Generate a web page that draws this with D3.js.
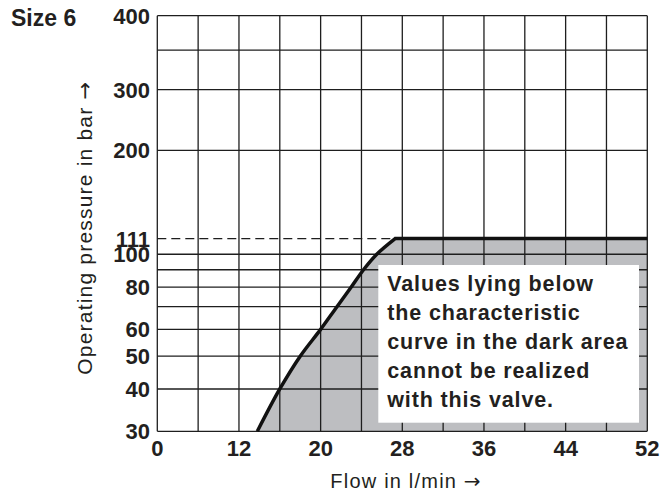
<!DOCTYPE html>
<html>
<head>
<meta charset="utf-8">
<script src="https://cdn.jsdelivr.net/npm/d3@7"></script>
<style>
  html, body { margin: 0; padding: 0; background: #fff; }
  svg { display: block; }
</style>
</head>
<body>
<svg id="chart" width="661" height="494"></svg>
<script>
// Flow grid (l/min) and labelled flow ticks
const flowGrid = [0, 6, 12, 16, 20, 24, 28, 32, 36, 40, 44, 48, 52];
const flowTicks = [0, 12, 20, 28, 36, 44, 52];

// Pressure grid (bar) and labelled pressure ticks
const pressureGrid = [30, 40, 50, 60, 70, 80, 90, 100, 200, 300, 350, 400];
const pressureTicks = [30, 40, 50, 60, 80, 100, 111, 200, 300, 400];

// Characteristic curve: flow (l/min) vs. maximum operating pressure (bar)
const curveFlow = [13.8, 16.0, 18.0, 20.0, 21.6, 23.0, 24.2, 25.5, 27.3];
const curvePressure = [30, 40, 50, 60, 70, 80, 90, 100, 111];
const limitPressure = 111;
const maxFlow = 52;

const noteLines = [
  "Values lying below",
  "the characteristic",
  "curve in the dark area",
  "cannot be realized",
  "with this valve."
];

const svg = d3.select("#chart");
const plotL = 157.3, plotR = 647.3, plotT = 15.7, plotB = 431.3;
const ink = "#231f20";
const sans = "'Liberation Sans', Arial, Helvetica, sans-serif";

// Flow axis: the first 12 l/min are compressed into two grid cells
const x = d3.scaleLinear()
  .domain([0, 12, 52])
  .range([plotL, plotL + (plotR - plotL) * 2 / 12, plotR]);

// Pressure axis: piecewise logarithmic
const h = plotB - plotT;
const y = d3.scaleLog()
  .domain([30, 100, 300, 400])
  .range([plotB, plotB - h * 0.426, plotB - h * 0.822, plotT]);

const curvePts = curveFlow.map((f, i) => [x(f), y(curvePressure[i])]);
const curveGen = d3.line().curve(d3.curveCatmullRom.alpha(0.5));

// Shaded region below the characteristic curve
const p = d3.path();
curveGen.context(p)(curvePts);
p.lineTo(x(maxFlow), y(limitPressure));
p.lineTo(x(maxFlow), y(30));
p.closePath();
svg.append("path")
  .attr("d", p.toString())
  .attr("fill", "#bdbec1");

// Grid
const grid = svg.append("g")
  .attr("stroke", "#1e1e1e")
  .attr("stroke-width", 1.3)
  .attr("fill", "none");
grid.selectAll("line.v").data(flowGrid).join("line")
  .attr("class", "v")
  .attr("x1", d => x(d)).attr("x2", d => x(d))
  .attr("y1", plotT).attr("y2", plotB);
grid.selectAll("line.h").data(pressureGrid).join("line")
  .attr("class", "h")
  .attr("x1", plotL).attr("x2", plotR)
  .attr("y1", d => y(d)).attr("y2", d => y(d));

// Dashed reference line at the pressure limit
svg.append("line")
  .attr("x1", x(0)).attr("x2", x(curveFlow[curveFlow.length - 1]))
  .attr("y1", y(limitPressure)).attr("y2", y(limitPressure))
  .attr("stroke", "#1e1e1e")
  .attr("stroke-width", 1.3)
  .attr("stroke-dasharray", "9,5");

// Characteristic curve
const c = d3.path();
curveGen.context(c)(curvePts);
c.lineTo(x(maxFlow), y(limitPressure));
svg.append("path")
  .attr("d", c.toString())
  .attr("fill", "none")
  .attr("stroke", "#111")
  .attr("stroke-width", 3.5)
  .attr("stroke-linejoin", "miter");

// Note box
const note = svg.append("g");
note.append("rect")
  .attr("x", 378.3).attr("y", 265)
  .attr("width", 260.7).attr("height", 157.7)
  .attr("fill", "#fff");
note.append("text")
  .attr("font-family", sans)
  .attr("font-weight", "bold")
  .attr("font-size", 21.5)
  .attr("letter-spacing", 0.85)
  .attr("fill", ink)
  .selectAll("tspan").data(noteLines).join("tspan")
  .attr("x", 387.3)
  .attr("y", (d, i) => 291 + i * 29.1)
  .text(d => d);

// Tick labels
svg.append("g").selectAll("text").data(pressureTicks).join("text")
  .attr("x", 150)
  .attr("y", d => y(d))
  .attr("dy", "0.36em")
  .attr("text-anchor", "end")
  .attr("font-family", sans)
  .attr("font-weight", 700)
  .attr("font-size", 22)
  .attr("fill", ink)
  .text(d => d);

svg.append("g").selectAll("text").data(flowTicks).join("text")
  .attr("x", d => x(d))
  .attr("y", 455.7)
  .attr("text-anchor", "middle")
  .attr("font-family", sans)
  .attr("font-weight", 700)
  .attr("font-size", 22)
  .attr("fill", ink)
  .text(d => d);

// Axis titles
const xTitle = svg.append("text")
  .attr("x", 405.5).attr("y", 488.3)
  .attr("text-anchor", "middle")
  .attr("font-family", sans)
  .attr("font-size", 20)
  .attr("letter-spacing", 1.2)
  .attr("fill", ink);
xTitle.append("tspan").text("Flow in l/min ");
xTitle.append("tspan").attr("font-family", "'DejaVu Sans', sans-serif")
  .attr("letter-spacing", 0).text("\u2192");

const yTitle = svg.append("text")
  .attr("transform", "translate(92,228.3) rotate(-90)")
  .attr("text-anchor", "middle")
  .attr("font-family", sans)
  .attr("font-size", 21)
  .attr("letter-spacing", 1.2)
  .attr("fill", ink);
yTitle.append("tspan").text("Operating pressure in bar ");
yTitle.append("tspan").attr("font-family", "'DejaVu Sans', sans-serif")
  .attr("letter-spacing", 0).text("\u2192");

// Chart title
svg.append("text")
  .attr("x", 11).attr("y", 26)
  .attr("font-family", sans)
  .attr("font-weight", "bold")
  .attr("font-size", 23)
  .attr("fill", ink)
  .text("Size 6");
</script>
</body>
</html>
